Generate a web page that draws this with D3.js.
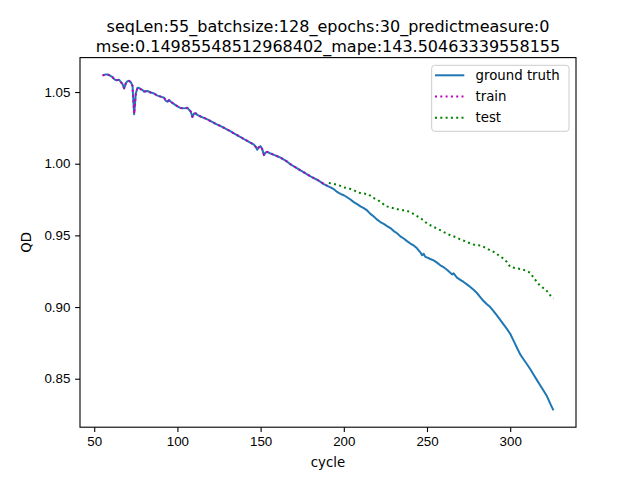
<!DOCTYPE html>
<html>
<head>
<meta charset="utf-8">
<script src="https://cdn.jsdelivr.net/npm/d3@7"></script>
<style>
  body { margin: 0; background: #fff; }
  svg { font-family: "DejaVu Sans", sans-serif; }
</style>
</head>
<body>
<svg id="chart" width="640" height="480"></svg>
<script>
// ground truth QD per cycle
var gtCycle = [55,57,58,59,61,62,63,65,66,67,68,69,70,71,72,73,74,75,76,77,78,79,80,81,82,84,86,88,90,92,93,94,95,96,98,100,102,104,106,107,108,109,110,111,112,114,116,118,120,122,124,126,128,130,132,134,136,138,140,142,144,146,147,148,149,150,151,152,153,154,156,158,160,162,164,166,168,170,172,174,176,178,180,182,184,186,188,190,192,194,196,198,200,202,204,206,208,210,212,214,216,218,220,222,224,226,228,230,232,234,236,238,240,242,244,246,247,248,249,250,252,254,256,258,260,262,264,265,266,268,270,272,274,276,278,280,282,284,286,288,290,292,294,296,298,300,302,304,306,308,310,312,314,316,318,320,322,324,326];
var gtValue = [1.0618,1.0622,1.0623,1.0618,1.0604,1.0590,1.0583,1.0585,1.0570,1.0555,1.0525,1.0562,1.0576,1.0578,1.0568,1.0545,1.0345,1.0490,1.0530,1.0528,1.0520,1.0515,1.0502,1.0506,1.0507,1.0497,1.0490,1.0475,1.0468,1.0460,1.0440,1.0432,1.0444,1.0432,1.0416,1.0400,1.0388,1.0386,1.0390,1.0376,1.0364,1.0325,1.0350,1.0352,1.0340,1.0328,1.0320,1.0309,1.0297,1.0284,1.0273,1.0263,1.0250,1.0238,1.0225,1.0211,1.0198,1.0185,1.0172,1.0160,1.0146,1.0133,1.0118,1.0098,1.0116,1.0122,1.0100,1.0060,1.0078,1.0083,1.0071,1.0062,1.0052,1.0042,1.0029,1.0014,0.9995,0.9982,0.9968,0.9953,0.9939,0.9925,0.9912,0.9900,0.9888,0.9873,0.9858,0.9845,0.9835,0.9822,0.9803,0.9790,0.9780,0.9766,0.9750,0.9732,0.9718,0.9702,0.9690,0.9674,0.9650,0.9632,0.9610,0.9593,0.9580,0.9565,0.9551,0.9530,0.9515,0.9493,0.9478,0.9460,0.9443,0.9430,0.9410,0.9382,0.9362,0.9372,0.9350,0.9346,0.9335,0.9326,0.9310,0.9291,0.9278,0.9260,0.9240,0.9228,0.9235,0.9205,0.9190,0.9175,0.9158,0.9140,0.9120,0.9098,0.9070,0.9042,0.9020,0.9000,0.8972,0.8942,0.8910,0.8879,0.8848,0.8814,0.8766,0.8718,0.8670,0.8636,0.8603,0.8568,0.8530,0.8492,0.8455,0.8418,0.8380,0.8328,0.8279];

// train prediction (sits on the ground truth)
var trainCycle = [55,57,58,59,61,62,63,65,66,67,68,69,70,71,72,73,74,75,76,77,78,79,80,81,82,84,86,88,90,92,93,94,95,96,98,100,102,104,106,107,108,109,110,111,112,114,116,118,120,122,124,126,128,130,132,134,136,138,140,142,144,146,147,148,149,150,151,152,153,154,156,158,160,162,164,166,168,170,172,174,176,178,180,182,184,186,188,190];
var trainValue = [1.0616,1.0621,1.0622,1.0617,1.0603,1.0591,1.0582,1.0584,1.0571,1.0553,1.0527,1.0561,1.0575,1.0577,1.0567,1.0543,1.0348,1.0488,1.0529,1.0527,1.0519,1.0514,1.0503,1.0505,1.0506,1.0496,1.0489,1.0476,1.0467,1.0459,1.0441,1.0433,1.0443,1.0431,1.0417,1.0401,1.0389,1.0385,1.0389,1.0375,1.0363,1.0328,1.0349,1.0351,1.0339,1.0329,1.0319,1.0310,1.0296,1.0285,1.0272,1.0262,1.0251,1.0237,1.0226,1.0210,1.0199,1.0184,1.0173,1.0159,1.0147,1.0132,1.0119,1.0101,1.0115,1.0121,1.0101,1.0063,1.0077,1.0082,1.0072,1.0061,1.0053,1.0041,1.0030,1.0013,0.9996,0.9981,0.9969,0.9952,0.9940,0.9924,0.9913,0.9899,0.9889,0.9872,0.9859,0.9847];

// test prediction
var testCycle = [191,194,197,200,203,206,209,212,215,217,220,223,225,228,231,234,237,240,242,245,248,250,253,256,259,261,264,267,270,273,276,279,282,285,288,291,293,296,298,300,303,306,309,312,314,316,318,321,323,325,326];
var testValue = [0.9866,0.9858,0.9850,0.9835,0.9828,0.9815,0.9797,0.9792,0.9786,0.9765,0.9750,0.9726,0.9705,0.9695,0.9687,0.9676,0.9674,0.9663,0.9648,0.9628,0.9605,0.9583,0.9565,0.9547,0.9531,0.9517,0.9501,0.9489,0.9472,0.9459,0.9444,0.9432,0.9430,0.9415,0.9396,0.9380,0.9361,0.9338,0.9314,0.9280,0.9272,0.9266,0.9256,0.9240,0.9206,0.9176,0.9148,0.9124,0.9100,0.9066,0.9060];

var xTicks = [50,100,150,200,250,300];
var yTicks = [0.85,0.90,0.95,1.00,1.05];
var titleLines = ["seqLen:55_batchsize:128_epochs:30_predictmeasure:0",
                  "mse:0.14985548512968402_mape:143.50463339558155"];
var legendNames = ["ground truth","train","test"];

var svg = d3.select("#chart");
var L = 80, R = 576, T = 57.6, B = 427.2;

// matplotlib style 5% margins
function padded(lo, hi) { var r = hi - lo; return [lo - 0.05 * r, hi + 0.05 * r]; }
var allX = gtCycle.concat(trainCycle, testCycle),
    allY = gtValue.concat(trainValue, testValue);

var x = d3.scaleLinear().domain(padded(d3.min(allX), d3.max(allX))).range([L, R]);
var y = d3.scaleLinear().domain(padded(d3.min(allY), d3.max(allY))).range([B, T]);

var series = [
  { name: legendNames[0], xs: gtCycle, ys: gtValue, color: "#1f77b4", dash: null },
  { name: legendNames[1], xs: trainCycle, ys: trainValue, color: "#bf00bf", dash: "2,3.3" },
  { name: legendNames[2], xs: testCycle, ys: testValue, color: "#008000", dash: "2,3.3" }
];

var line = d3.line().x(function (d) { return x(d[0]); }).y(function (d) { return y(d[1]); });

var plot = svg.append("g");
plot.append("defs").append("clipPath").attr("id", "clip")
  .append("rect").attr("x", L).attr("y", T).attr("width", R - L).attr("height", B - T);

series.forEach(function (s) {
  plot.append("path")
    .datum(d3.zip(s.xs, s.ys))
    .attr("clip-path", "url(#clip)")
    .attr("fill", "none")
    .attr("stroke", s.color)
    .attr("stroke-width", 2)
    .attr("stroke-dasharray", s.dash)
    .attr("stroke-linejoin", "round")
    .attr("d", line);
});

// axes
var xAxis = svg.append("g").attr("transform", "translate(0," + B + ")")
  .call(d3.axisBottom(x).tickValues(xTicks).tickSize(4.9).tickPadding(4.7).tickFormat(d3.format("d")));
var yAxis = svg.append("g").attr("transform", "translate(" + L + ",0)")
  .call(d3.axisLeft(y).tickValues(yTicks).tickSize(4.9).tickPadding(4.7).tickFormat(d3.format(".2f")));

[xAxis, yAxis].forEach(function (a) {
  a.select(".domain").remove();
  a.selectAll(".tick line").attr("stroke", "#000").attr("stroke-width", 1.1);
  a.selectAll(".tick text").attr("fill", "#000").style("font-size", "13.33px");
});

svg.append("rect").attr("x", L).attr("y", T).attr("width", R - L).attr("height", B - T)
  .attr("fill", "none").attr("stroke", "#000").attr("stroke-width", 1.1);

svg.append("text").attr("x", (L + R) / 2).attr("y", 467).attr("text-anchor", "middle")
  .style("font-size", "13.33px").text("cycle");
svg.append("text").attr("transform", "translate(31," + (T + B) / 2 + ") rotate(-90)")
  .attr("text-anchor", "middle").style("font-size", "13.33px").text("QD");

svg.selectAll(".title").data(titleLines).enter().append("text")
  .attr("class", "title")
  .attr("x", (L + R) / 2)
  .attr("y", function (d, i) { return 31.5 + i * 20.5; })
  .attr("text-anchor", "middle")
  .style("font-size", "16px")
  .text(function (d) { return d; });

// legend
var leg = svg.append("g");
leg.append("rect").attr("x", 431.7).attr("y", 65.3).attr("width", 137.3).attr("height", 66)
  .attr("rx", 3).attr("fill", "#fff").attr("fill-opacity", 0.8).attr("stroke", "#ccc");
var rows = leg.selectAll(".row").data(series).enter().append("g")
  .attr("transform", function (d, i) { return "translate(0," + (75.3 + i * 21.2) + ")"; });
rows.append("line").attr("x1", 435).attr("x2", 464.3)
  .attr("stroke", function (d) { return d.color; }).attr("stroke-width", 2)
  .attr("stroke-dasharray", function (d) { return d.dash; });
rows.append("text").attr("x", 475.5).attr("dy", "0.35em").style("font-size", "13.33px")
  .text(function (d) { return d.name; });
</script>
</body>
</html>
